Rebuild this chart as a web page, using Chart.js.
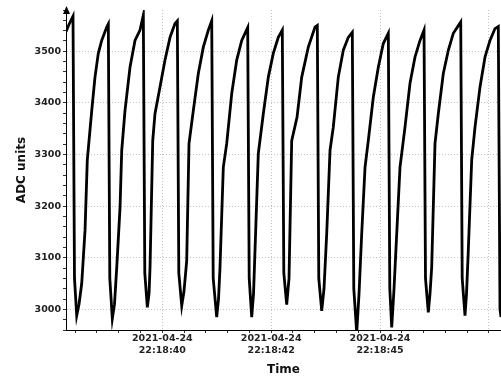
<!DOCTYPE html>
<html>
<head>
<meta charset="utf-8">
<script src="https://cdn.jsdelivr.net/npm/chart.js@4/dist/chart.umd.min.js"></script>
<style>
  html, body { margin: 0; padding: 0; background: #fff; }
  #wrap { width: 501px; height: 376px; }
</style>
</head>
<body>
<div id="wrap"><canvas id="Chart"></canvas></div>
<script>
// time axis is seconds after 22:18:00 on 2021-04-24
var timeSec = [
  37.788, 37.857, 37.903, 37.949, 37.983, 38.034, 38.087, 38.149, 38.225, 38.277, 38.379, 38.454, 38.530, 38.608, 38.723,
  38.760, 38.794, 38.852, 38.902, 38.953, 39.029, 39.068, 39.143, 39.258, 39.373, 39.488,
  39.564, 39.598, 39.656, 39.695, 39.718, 39.780, 39.832, 39.947, 40.062, 40.177, 40.292,
  40.345, 40.379, 40.446, 40.498, 40.560, 40.613, 40.712, 40.827, 40.942, 41.057,
  41.135, 41.169, 41.249, 41.291, 41.325, 41.401, 41.479, 41.594, 41.709, 41.824,
  41.961, 41.996, 42.053, 42.095, 42.129, 42.205, 42.320, 42.435, 42.549, 42.664,
  42.756, 42.791, 42.857, 42.910, 42.972, 43.094, 43.202, 43.353, 43.507,
  43.560, 43.594, 43.661, 43.714, 43.776, 43.852, 43.927, 44.042, 44.157, 44.272,
  44.364, 44.398, 44.465, 44.518, 44.580, 44.656, 44.731, 44.846, 44.961, 45.076,
  45.191, 45.225, 45.269, 45.322, 45.384, 45.459, 45.574, 45.689, 45.804, 45.919,
  46.011, 46.045, 46.109, 46.148, 46.187, 46.263, 46.339, 46.454, 46.569, 46.684,
  46.854, 46.888, 46.952, 46.987, 47.028, 47.106, 47.182, 47.297, 47.412, 47.526, 47.641,
  47.717, 47.756, 47.779
];
var adcUnits = [
  3538, 3552, 3560, 3568, 3060, 2988, 3010, 3050, 3153, 3289, 3385, 3450, 3496, 3521, 3547,
  3553, 3060, 2982, 3010, 3081, 3197, 3308, 3385, 3469, 3521, 3541,
  3570, 3070, 3004, 3030, 3081, 3327, 3379, 3431, 3483, 3527, 3554,
  3559, 3070, 3007, 3035, 3094, 3321, 3385, 3457, 3508, 3541,
  3559, 3060, 2985, 3020, 3081, 3275, 3321, 3418, 3483, 3521,
  3546, 3060, 2985, 3030, 3114, 3302, 3379, 3450, 3496, 3527,
  3541, 3070, 3009, 3060, 3327, 3372, 3450, 3508, 3547,
  3550, 3060, 2997, 3040, 3147, 3308, 3353, 3450, 3502, 3527,
  3537, 3040, 2955, 3030, 3147, 3275, 3327, 3411, 3469, 3515,
  3535, 3040, 2965, 3040, 3147, 3275, 3353, 3438, 3489, 3521,
  3541, 3060, 2994, 3030, 3081, 3321, 3379, 3457, 3502, 3535,
  3557, 3060, 2988, 3030, 3114, 3289, 3353, 3431, 3489, 3521, 3544,
  3548, 3000, 2985
];
// grid lines on the time axis (seconds) and which of them carry a label
var timeGrid = [40, 42.5, 45, 47.5];
var timeLabelled = [40, 42.5, 45];
var timeMin = 37.788, timeMax = 47.779;
var adcMajor = [3000, 3100, 3200, 3300, 3400, 3500];
var adcMin = 2960, adcMax = 3580;

var points = timeSec.map(function (t, i) { return { x: t, y: adcUnits[i] }; });

function inList(list, v) {
    return list.some(function (m) { return Math.abs(m - v) < 1e-6; });
}
function timeLabel(v) {
    var s = Math.floor(v + 1e-6);
    return ['2021-04-24', '22:18:' + (s < 10 ? '0' : '') + s];
}

var tickFont = { family: 'DejaVu Sans', size: 9.5, weight: 'bold', lineHeight: 1.25 };
var titleFont = { family: 'DejaVu Sans', size: 12, weight: 'bold', lineHeight: 1.0 };

// small arrow on top of the value axis
var axisArrow = {
    id: 'axisArrow',
    afterDraw: function (chart) {
        var c = chart.ctx, a = chart.chartArea;
        c.save();
        c.strokeStyle = '#000';
        c.lineWidth = 1;
        c.beginPath();
        c.moveTo(a.left + 0.5, a.top);
        c.lineTo(a.left + 0.5, a.top - 3);
        c.stroke();
        c.fillStyle = '#000';
        c.beginPath();
        c.moveTo(a.left + 0.5, a.top - 4);
        c.lineTo(a.left - 3, a.top + 4);
        c.lineTo(a.left + 4, a.top + 4);
        c.closePath();
        c.fill();
        c.restore();
    }
};

var ctx = document.getElementById('Chart').getContext('2d');
var chart = new Chart(ctx, {
    type: 'line',
    data: {
        datasets: [{
            label: 'ADC',
            data: points,
            borderColor: '#000',
            backgroundColor: '#000',
            borderWidth: 2.8,
            pointRadius: 0,
            tension: 0,
            fill: false
        }]
    },
    options: {
        responsive: true,
        maintainAspectRatio: false,
        animation: false,
        parsing: false,
        layout: { padding: { top: 10, right: 0, bottom: 0, left: 0 } },
        plugins: { legend: { display: false }, tooltip: { enabled: false } },
        scales: {
            x: {
                type: 'linear',
                min: timeMin,
                max: timeMax,
                afterBuildTicks: function (s) {
                    var t = [];
                    for (var v = 38; v <= 47.75; v += 0.5) t.push({ value: v });
                    s.ticks = t;
                },
                afterFit: function (s) { s.height = 46; },
                ticks: {
                    autoSkip: false,
                    maxRotation: 0,
                    minRotation: 0,
                    padding: 0,
                    color: '#222',
                    font: tickFont,
                    callback: function (v) { return inList(timeLabelled, v) ? timeLabel(v) : ''; }
                },
                grid: {
                    color: function (c) { return c.tick && inList(timeGrid, c.tick.value) ? '#c4c4c4' : 'rgba(0,0,0,0)'; },
                    lineWidth: 1,
                    tickLength: 3,
                    tickColor: '#333'
                },
                border: { color: '#000', width: 1, dash: [1, 2] },
                title: { display: true, text: 'Time', color: '#111', font: titleFont, padding: { top: 0, bottom: 0 } }
            },
            y: {
                min: adcMin,
                max: adcMax,
                afterBuildTicks: function (s) {
                    var t = [];
                    for (var v = adcMin; v <= adcMax; v += 20) t.push({ value: v });
                    s.ticks = t;
                },
                afterFit: function (s) { s.width = 66; },
                ticks: {
                    autoSkip: false,
                    padding: 2,
                    color: '#222',
                    font: tickFont,
                    callback: function (v) { return adcMajor.indexOf(v) >= 0 ? String(v) : ''; }
                },
                grid: {
                    color: function (c) { return c.tick && adcMajor.indexOf(c.tick.value) >= 0 ? '#c4c4c4' : 'rgba(0,0,0,0)'; },
                    lineWidth: 1,
                    tickLength: 3,
                    tickColor: '#333'
                },
                border: { color: '#000', width: 1, dash: [1, 2] },
                title: { display: true, text: 'ADC units', color: '#111', font: titleFont, padding: { top: 16, bottom: 0 } }
            }
        }
    },
    plugins: [axisArrow]
});
</script>
</body>
</html>
